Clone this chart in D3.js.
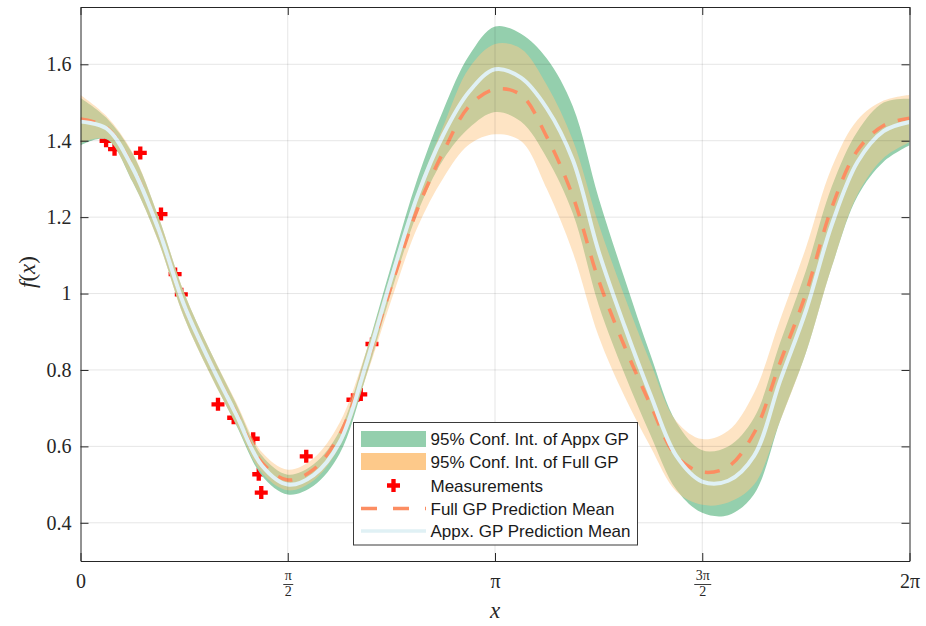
<!DOCTYPE html>
<html>
<head>
<meta charset="utf-8">
<script src="https://cdn.jsdelivr.net/npm/d3@7"></script>
<style>
body { margin: 0; background: #fff; }
svg { display: block; }
</style>
</head>
<body>
<svg id="chart" width="926" height="626"></svg>
<script>
"use strict";

const PI = Math.PI;

const xs = [0, 0.196, 0.393, 0.589, 0.785, 0.982, 1.178, 1.374, 1.571, 1.767, 1.963,
	2.160, 2.356, 2.553, 2.749, 2.945, 3.142, 3.338, 3.534, 3.731, 3.927, 4.123,
	4.320, 4.516, 4.712, 4.909, 5.105, 5.301, 5.498, 5.694, 5.890, 6.087, 6.283];

const appxMean = [1.450, 1.432, 1.330, 1.170, 0.970, 0.820, 0.685, 0.550, 0.500, 0.525, 0.610,
	0.810, 1.040, 1.255, 1.415, 1.528, 1.587, 1.565, 1.485, 1.350, 1.110, 0.915,
	0.735, 0.575, 0.508, 0.510, 0.575, 0.770, 0.955, 1.180, 1.345, 1.425, 1.449];
const appxUpper = [1.512, 1.460, 1.367, 1.202, 1.002, 0.850, 0.713, 0.576, 0.526, 0.553, 0.640,
	0.842, 1.075, 1.300, 1.480, 1.623, 1.699, 1.680, 1.615, 1.490, 1.250, 1.040,
	0.840, 0.663, 0.590, 0.600, 0.675, 0.870, 1.060, 1.280, 1.425, 1.500, 1.510];
const appxLower = [1.388, 1.404, 1.293, 1.138, 0.938, 0.790, 0.657, 0.524, 0.474, 0.497, 0.580,
	0.778, 1.005, 1.210, 1.350, 1.433, 1.475, 1.450, 1.355, 1.210, 0.970, 0.790,
	0.630, 0.487, 0.426, 0.420, 0.475, 0.665, 0.845, 1.070, 1.255, 1.345, 1.388];

const fullMean = [1.457, 1.435, 1.332, 1.170, 0.970, 0.820, 0.688, 0.558, 0.512, 0.540, 0.630,
	0.810, 1.020, 1.220, 1.370, 1.490, 1.535, 1.520, 1.410, 1.255, 1.035, 0.862,
	0.709, 0.574, 0.533, 0.547, 0.635, 0.818, 1.000, 1.225, 1.375, 1.440, 1.459];
const fullUpper = [1.520, 1.465, 1.370, 1.203, 1.003, 0.851, 0.717, 0.585, 0.539, 0.569, 0.661,
	0.843, 1.057, 1.267, 1.438, 1.590, 1.653, 1.641, 1.546, 1.402, 1.182, 0.993,
	0.819, 0.666, 0.619, 0.641, 0.740, 0.930, 1.120, 1.330, 1.455, 1.505, 1.520];
const fullLower = [1.394, 1.405, 1.294, 1.137, 0.937, 0.789, 0.659, 0.531, 0.485, 0.511, 0.599,
	0.777, 0.983, 1.173, 1.302, 1.390, 1.417, 1.399, 1.274, 1.108, 0.888, 0.731,
	0.599, 0.482, 0.447, 0.453, 0.500, 0.665, 0.845, 1.070, 1.260, 1.355, 1.396];

// Measurements
const measX = [0.194, 0.258, 0.453, 0.610, 0.717, 0.764, 1.042, 1.161, 1.309,
	1.351, 1.370, 1.711, 2.065, 2.124, 2.209, 2.659, 4.493];
const measY = [1.400, 1.378, 1.368, 1.208, 1.051, 0.998, 0.710, 0.675, 0.620,
	0.527, 0.479, 0.574, 0.722, 0.736, 0.868, 1.331, 0.585];

// Ticks
const yTicks = [0.4, 0.6, 0.8, 1, 1.2, 1.4, 1.6];
const xTicks = [0, PI / 2, PI, 3 * PI / 2, 2 * PI];
const xTickLabels = [["0"], ["π", "2"], ["π"], ["3π", "2"], ["2π"]];

const legendLabels = [
	"95% Conf. Int. of Appx GP",
	"95% Conf. Int. of Full GP",
	"Measurements",
	"Full GP Prediction Mean",
	"Appx. GP Prediction Mean"
];

// Colours
const GREEN = "#94cfad";
const ORANGE = "#fdc98a";
const DASH = "#fc8d62";
const LIGHT = "#e0f1f5";
const AXIS = "#262626";
const SERIF = "'Liberation Serif', 'Times New Roman', serif";
const SANS = "'Liberation Sans', Arial, sans-serif";

const plot = {left: 80.5, right: 909.5, top: 7, bottom: 561};

const svg = d3.select("#chart");

const x = d3.scaleLinear().domain([0, 2 * PI]).range([plot.left, plot.right]);
const y = d3.scaleLinear().domain([0.3, 1.75]).range([plot.bottom, plot.top]);

const rows = xs.map((xv, i) => ({
	x: xv,
	am: appxMean[i], au: appxUpper[i], al: appxLower[i],
	fm: fullMean[i], fu: fullUpper[i], fl: fullLower[i]
}));

svg.append("defs").append("clipPath").attr("id", "clip")
	.append("rect")
	.attr("x", plot.left).attr("y", plot.top)
	.attr("width", plot.right - plot.left).attr("height", plot.bottom - plot.top);

const g = svg.append("g").attr("clip-path", "url(#clip)");

// measurements sit underneath the bands
const cross = d3.symbol(d3.symbolCross, 94);
g.selectAll("path.meas")
	.data(d3.zip(measX, measY))
	.join("path")
	.attr("class", "meas")
	.attr("transform", d => `translate(${x(d[0])},${y(d[1])})`)
	.attr("d", cross)
	.attr("fill", "#ff0000");

const curve = d3.curveCatmullRom;

g.append("path")
	.datum(rows)
	.attr("fill", GREEN)
	.attr("d", d3.area().x(d => x(d.x)).y0(d => y(d.al)).y1(d => y(d.au)).curve(curve));

g.append("path")
	.datum(rows)
	.attr("fill", ORANGE)
	.attr("fill-opacity", 0.5)
	.attr("d", d3.area().x(d => x(d.x)).y0(d => y(d.fl)).y1(d => y(d.fu)).curve(curve));

g.append("path")
	.datum(rows)
	.attr("fill", "none")
	.attr("stroke", DASH)
	.attr("stroke-width", 3.5)
	.attr("stroke-dasharray", "15,13")
	.attr("d", d3.line().x(d => x(d.x)).y(d => y(d.fm)).curve(curve));

g.append("path")
	.datum(rows)
	.attr("fill", "none")
	.attr("stroke", LIGHT)
	.attr("stroke-width", 4)
	.attr("d", d3.line().x(d => x(d.x)).y(d => y(d.am)).curve(curve));

// grid (faint, drawn over the bands)
const grid = svg.append("g").attr("stroke", "#000").attr("stroke-opacity", 0.1);
grid.selectAll("line.gx")
	.data(xTicks.slice(1, -1))
	.join("line")
	.attr("x1", d => x(d)).attr("x2", d => x(d))
	.attr("y1", plot.top).attr("y2", plot.bottom);
grid.selectAll("line.gy")
	.data(yTicks)
	.join("line")
	.attr("x1", plot.left).attr("x2", plot.right)
	.attr("y1", d => y(d)).attr("y2", d => y(d));

// axes, ticks pointing inward on all four sides
function styleAxis(sel) {
	sel.selectAll("path, line").attr("stroke", AXIS);
	sel.selectAll("text").attr("fill", AXIS);
}

svg.append("g")
	.attr("transform", `translate(${plot.left},0)`)
	.call(d3.axisLeft(y).tickValues(yTicks).tickSizeInner(-8).tickSizeOuter(0)
		.tickPadding(9).tickFormat(d3.format("~g")))
	.call(styleAxis)
	.call(s => s.selectAll("text").attr("font-family", SERIF).attr("font-size", 20));

svg.append("g")
	.attr("transform", `translate(${plot.right},0)`)
	.call(d3.axisRight(y).tickValues(yTicks).tickSizeInner(-8).tickSizeOuter(0).tickFormat(""))
	.call(styleAxis);

svg.append("g")
	.attr("transform", `translate(0,${plot.top})`)
	.call(d3.axisTop(x).tickValues(xTicks).tickSizeInner(-8).tickSizeOuter(0).tickFormat(""))
	.call(styleAxis);

const xAxis = svg.append("g")
	.attr("transform", `translate(0,${plot.bottom})`)
	.call(d3.axisBottom(x).tickValues(xTicks).tickSizeInner(-8).tickSizeOuter(0).tickFormat(""))
	.call(styleAxis);

// LaTeX-like tick labels, fractions stacked
xAxis.selectAll(".tick").each(function(d, i) {
	const t = d3.select(this);
	const lab = xTickLabels[i];
	if (lab.length === 1) {
		t.append("text")
			.attr("y", 27)
			.attr("text-anchor", "middle")
			.attr("font-family", SERIF)
			.attr("font-size", 20)
			.attr("fill", AXIS)
			.text(lab[0]);
	} else {
		const w = lab[0].length > 1 ? 17 : 10;
		t.append("text")
			.attr("y", 19)
			.attr("text-anchor", "middle")
			.attr("font-family", SERIF)
			.attr("font-size", 14)
			.attr("fill", AXIS)
			.text(lab[0]);
		t.append("line")
			.attr("x1", -w / 2).attr("x2", w / 2)
			.attr("y1", 23.5).attr("y2", 23.5)
			.attr("stroke", AXIS).attr("stroke-width", 0.9);
		t.append("text")
			.attr("y", 35)
			.attr("text-anchor", "middle")
			.attr("font-family", SERIF)
			.attr("font-size", 14)
			.attr("fill", AXIS)
			.text(lab[1]);
	}
});

// axis titles
svg.append("text")
	.attr("x", (plot.left + plot.right) / 2)
	.attr("y", 618)
	.attr("text-anchor", "middle")
	.attr("font-family", SERIF)
	.attr("font-size", 23)
	.attr("font-style", "italic")
	.attr("fill", AXIS)
	.text("x");

const yl = svg.append("text")
	.attr("transform", "translate(35,272) rotate(-90)")
	.attr("text-anchor", "middle")
	.attr("font-family", SERIF)
	.attr("font-size", 23)
	.attr("fill", AXIS);
yl.append("tspan").attr("font-style", "italic").text("f");
yl.append("tspan").text("(");
yl.append("tspan").attr("font-style", "italic").text("x");
yl.append("tspan").text(")");

// legend
const lg = svg.append("g").attr("transform", "translate(353.5,422.5)");
lg.append("rect")
	.attr("width", 284).attr("height", 122.5)
	.attr("fill", "#fff")
	.attr("stroke", "#3a3a3a").attr("stroke-width", 1);

const rowY = [16.5, 39, 63, 86, 108.5];

lg.append("rect").attr("x", 7.5).attr("y", rowY[0] - 8).attr("width", 65).attr("height", 16).attr("fill", GREEN);
lg.append("rect").attr("x", 7.5).attr("y", rowY[1] - 8.5).attr("width", 65).attr("height", 17).attr("fill", ORANGE);
lg.append("path")
	.attr("transform", `translate(40,${rowY[2]})`)
	.attr("d", cross)
	.attr("fill", "#ff0000");
lg.append("line")
	.attr("x1", 7.5).attr("x2", 72.5)
	.attr("y1", rowY[3]).attr("y2", rowY[3])
	.attr("stroke", DASH).attr("stroke-width", 3.5)
	.attr("stroke-dasharray", "16,16");
lg.append("line")
	.attr("x1", 7.5).attr("x2", 72.5)
	.attr("y1", rowY[4]).attr("y2", rowY[4])
	.attr("stroke", LIGHT).attr("stroke-width", 3.5);

lg.selectAll("text.lab")
	.data(legendLabels)
	.join("text")
	.attr("class", "lab")
	.attr("x", 77)
	.attr("y", (d, i) => rowY[i] + 6)
	.attr("font-family", SANS)
	.attr("font-size", 17)
	.attr("fill", "#1a1a1a")
	.text(d => d);
</script>
</body>
</html>
